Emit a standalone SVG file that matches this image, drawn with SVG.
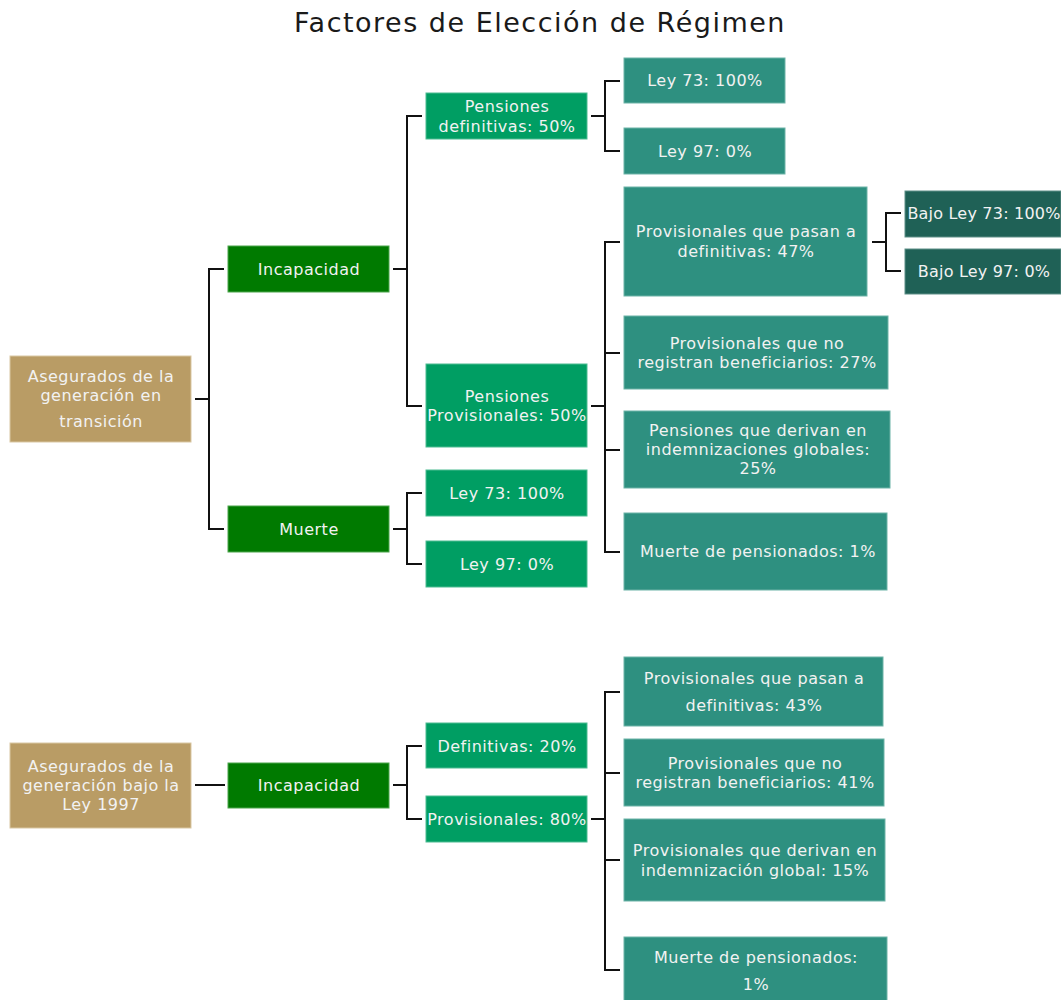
<svg xmlns="http://www.w3.org/2000/svg" width="1061" height="1000" viewBox="0 0 1061 1000">
<style>
.t{font-family:"DejaVu Sans","Open Sans",sans-serif;font-size:16px;letter-spacing:0.5px;fill:#F2F2F2;text-anchor:middle}
.title{font-family:"DejaVu Sans","Open Sans",sans-serif;font-size:27px;letter-spacing:1.5px;fill:#1a1a1a;text-anchor:middle}
.tan{fill:#B99C65;stroke:#D9C7A3;stroke-width:1}
.dg{fill:#007A00;stroke:#4CA64C;stroke-width:1}
.g{fill:#009E63;stroke:#4DBB92;stroke-width:1}
.tl{fill:#2E9080;stroke:#6DB3A7;stroke-width:1}
.dt{fill:#1F6156;stroke:#5E8F87;stroke-width:1}
.c{fill:none;stroke:#111;stroke-width:2}
</style>
<rect width="1061" height="1000" fill="#FFFFFF"/>
<text class="title" x="540" y="32">Factores de Elección de Régimen</text>

<g id="connectors">
<path class="c" d="M195 399H209M224 269H209V529H224"/>
<path class="c" d="M393 269H407M422 116H407V406H422"/>
<path class="c" d="M591 116H605M620 81H605V151H620"/>
<path class="c" d="M591 406H605M620 242H605V552H620M605 353H620M605 450H620"/>
<path class="c" d="M393 529H407M422 493H407V564H422"/>
<path class="c" d="M872 242H886M901 213H886V271H901"/>
<path class="c" d="M195 785H225"/>
<path class="c" d="M393 785H407M422 746H407V819H422"/>
<path class="c" d="M591 819H605M620 692H605V970H620M605 773H620M605 860H620"/>
</g>

<g id="n-a1"><rect class="tan" x="10" y="356" width="181" height="86"/>
<text class="t" x="101" y="382">Asegurados de la</text><text class="t" x="101" y="401">generación en</text><text class="t" x="101" y="427">transición</text></g>
<g id="n-incap1"><rect class="dg" x="228" y="246" width="161" height="46"/><text class="t" x="309" y="275">Incapacidad</text></g>
<g id="n-muerte"><rect class="dg" x="228" y="506" width="161" height="46"/><text class="t" x="309" y="535">Muerte</text></g>
<g id="n-pdef"><rect class="g" x="426" y="93" width="161" height="46"/><text class="t" x="507" y="112">Pensiones</text><text class="t" x="507" y="132">definitivas: 50%</text></g>
<g id="n-pprov"><rect class="g" x="426" y="364" width="161" height="83"/><text class="t" x="507" y="402">Pensiones</text><text class="t" x="507" y="421">Provisionales: 50%</text></g>
<g id="n-m73"><rect class="g" x="426" y="470" width="161" height="46"/><text class="t" x="507" y="499">Ley 73: 100%</text></g>
<g id="n-m97"><rect class="g" x="426" y="541" width="161" height="46"/><text class="t" x="507" y="570">Ley 97: 0%</text></g>
<g id="n-d73"><rect class="tl" x="624" y="58" width="161" height="45"/><text class="t" x="705" y="86">Ley 73: 100%</text></g>
<g id="n-d97"><rect class="tl" x="624" y="128" width="161" height="46"/><text class="t" x="705" y="157">Ley 97: 0%</text></g>
<g id="n-p47"><rect class="tl" x="624" y="187" width="243" height="109"/><text class="t" x="746" y="237">Provisionales que pasan a</text><text class="t" x="746" y="257">definitivas: 47%</text></g>
<g id="n-b73"><rect class="dt" x="905" y="191" width="156" height="46"/><text class="t" x="984" y="219" style="letter-spacing:0.2px">Bajo Ley 73: 100%</text></g>
<g id="n-b97"><rect class="dt" x="905" y="249" width="156" height="45"/><text class="t" x="984" y="277" style="letter-spacing:0.2px">Bajo Ley 97: 0%</text></g>
<g id="n-p27"><rect class="tl" x="624" y="316" width="264" height="73"/><text class="t" x="757" y="349">Provisionales que no</text><text class="t" x="757" y="368">registran beneficiarios: 27%</text></g>
<g id="n-p25"><rect class="tl" x="624" y="411" width="266" height="77"/><text class="t" x="758" y="436">Pensiones que derivan en</text><text class="t" x="758" y="455">indemnizaciones globales:</text><text class="t" x="758" y="474">25%</text></g>
<g id="n-p1"><rect class="tl" x="624" y="513" width="263" height="77"/><text class="t" x="758" y="557">Muerte de pensionados: 1%</text></g>

<g id="n-a2"><rect class="tan" x="10" y="743" width="181" height="85"/>
<text class="t" x="101" y="772">Asegurados de la</text><text class="t" x="101" y="791">generación bajo la</text><text class="t" x="101" y="810">Ley 1997</text></g>
<g id="n-incap2"><rect class="dg" x="228" y="763" width="161" height="45"/><text class="t" x="309" y="791">Incapacidad</text></g>
<g id="n-def20"><rect class="g" x="426" y="723" width="161" height="45"/><text class="t" x="507" y="752">Definitivas: 20%</text></g>
<g id="n-prov80"><rect class="g" x="426" y="796" width="161" height="46"/><text class="t" x="507" y="825">Provisionales: 80%</text></g>
<g id="n-p43"><rect class="tl" x="624" y="657" width="259" height="69"/><text class="t" x="754" y="684">Provisionales que pasan a</text><text class="t" x="754" y="711">definitivas: 43%</text></g>
<g id="n-p41"><rect class="tl" x="624" y="739" width="260" height="67"/><text class="t" x="755" y="769">Provisionales que no</text><text class="t" x="755" y="788">registran beneficiarios: 41%</text></g>
<g id="n-p15"><rect class="tl" x="624" y="819" width="261" height="82"/><text class="t" x="755" y="856">Provisionales que derivan en</text><text class="t" x="755" y="876">indemnización global: 15%</text></g>
<g id="n-p1b"><rect class="tl" x="624" y="937" width="263" height="70"/><text class="t" x="756" y="963">Muerte de pensionados:</text><text class="t" x="756" y="990">1%</text></g>
</svg>
